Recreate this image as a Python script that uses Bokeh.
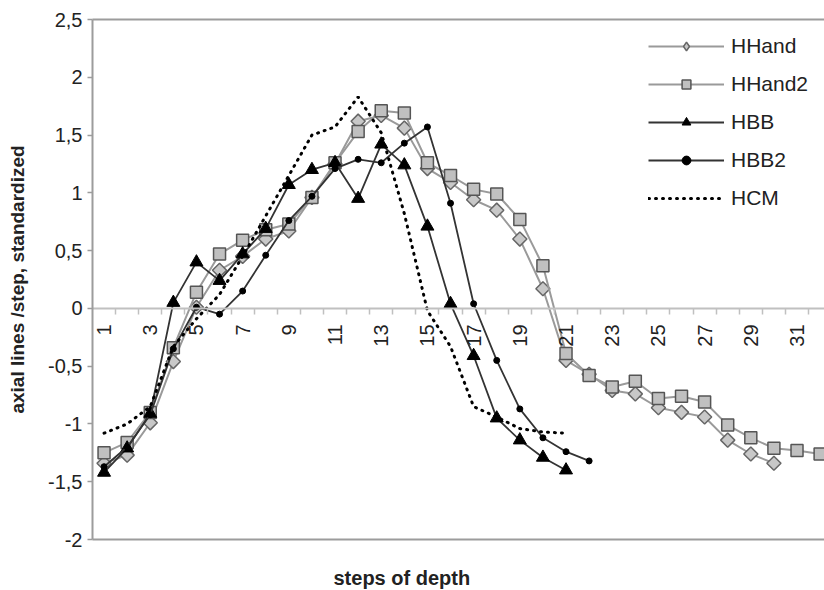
import math
from bokeh.plotting import figure
from bokeh.models import LinearAxis, FixedTicker, Range1d, Legend, LegendItem, Title
from bokeh.embed import file_html
from bokeh.resources import INLINE

# ---------------- data ----------------
steps_hhand = list(range(1, 31))
hhand = [-1.34, -1.27, -0.99, -0.46, 0.01, 0.33, 0.45, 0.60, 0.67, 0.96,
         1.25, 1.62, 1.67, 1.56, 1.21, 1.09, 0.94, 0.85, 0.60, 0.17,
         -0.45, -0.57, -0.71, -0.74, -0.86, -0.90, -0.94, -1.14, -1.26, -1.34]

steps_hhand2 = list(range(1, 33))
hhand2 = [-1.25, -1.16, -0.90, -0.34, 0.14, 0.47, 0.59, 0.68, 0.73, 0.96,
          1.26, 1.53, 1.71, 1.69, 1.26, 1.15, 1.03, 0.99, 0.77, 0.37,
          -0.39, -0.58, -0.68, -0.63, -0.78, -0.76, -0.81, -1.01, -1.12, -1.21,
          -1.23, -1.26]

steps_hbb = list(range(1, 22))
hbb = [-1.42, -1.21, -0.91, 0.05, 0.40, 0.24, 0.47, 0.69, 1.07, 1.20,
       1.26, 0.95, 1.42, 1.24, 0.71, 0.04, -0.41, -0.95, -1.14, -1.29, -1.40]

steps_hbb2 = list(range(1, 23))
hbb2 = [-1.37, -1.20, -0.92, -0.35, 0.01, -0.05, 0.15, 0.46, 0.76, 0.97,
        1.21, 1.29, 1.26, 1.43, 1.57, 0.91, 0.04, -0.45, -0.87, -1.12,
        -1.24, -1.32]

steps_hcm = list(range(1, 22))
hcm = [-1.08, -1.00, -0.85, -0.33, -0.09, 0.12, 0.45, 0.80, 1.15, 1.50,
       1.57, 1.83, 1.52, 0.82, -0.02, -0.33, -0.85, -0.94, -1.04, -1.07, -1.08]

x_label_steps = list(range(1, 32, 2))
x_tick_labels = [str(k) for k in x_label_steps]
y_ticks = [-2, -1.5, -1, -0.5, 0, 0.5, 1, 1.5, 2, 2.5]
y_tick_labels = ["-2", "-1,5", "-1", "-0,5", "0", "0,5", "1", "1,5", "2", "2,5"]

FONT = "Liberation Sans"
FRAME = "#9c9c9c"

p = figure(width=824, height=590,
           x_range=Range1d(0.5, 32.19), y_range=Range1d(-2, 2.5),
           x_axis_type=None, y_axis_type=None,
           output_backend="svg", toolbar_location=None,
           min_border_left=92, min_border_right=0,
           min_border_top=19, min_border_bottom=50)
p.outline_line_color = None
p.background_fill_color = "white"
p.border_fill_color = "white"

# y axis (left frame line)
yax = LinearAxis(ticker=FixedTicker(ticks=y_ticks),
                 major_label_overrides={float(t): l for t, l in zip(y_ticks, y_tick_labels)})
yax.axis_line_color = FRAME
yax.axis_line_width = 2
yax.major_tick_line_color = FRAME
yax.major_tick_line_width = 1.5
yax.major_tick_out = 5
yax.major_tick_in = 0
yax.minor_tick_line_color = None
yax.major_label_text_font = FONT
yax.major_label_text_font_size = "20px"
yax.major_label_text_color = "#222222"
yax.major_label_standoff = 5
yax.axis_label = "axial lines /step, standardized"
yax.axis_label_text_font = FONT
yax.axis_label_text_font_size = "19px"
yax.axis_label_text_font_style = "bold"
yax.axis_label_text_color = "#222222"
yax.axis_label_standoff = 17
p.add_layout(yax, "left")

# top frame line
top = LinearAxis(ticker=FixedTicker(ticks=[]))
top.axis_line_color = FRAME
top.axis_line_width = 2
top.major_tick_line_color = None
top.minor_tick_line_color = None
top.major_tick_out = 0
top.major_label_standoff = 0
p.add_layout(top, "above")

# bottom frame line (an invisible tick spaces the x title below it)
bot = LinearAxis(ticker=FixedTicker(ticks=[1]))
bot.axis_line_color = FRAME
bot.axis_line_width = 2
bot.major_tick_line_color = None
bot.minor_tick_line_color = None
bot.major_tick_out = 23
bot.major_tick_in = 0
bot.major_label_text_color = None
bot.major_label_text_font_size = "1px"
bot.major_label_standoff = 0
p.add_layout(bot, "below")

# category axis crossing at y = 0: labels on odd steps, tick marks between categories
zl = LinearAxis(ticker=FixedTicker(ticks=x_label_steps,
                                   minor_ticks=[k + 0.5 for k in range(1, 32)]),
                fixed_location=0,
                major_label_overrides={float(k): l for k, l in zip(x_label_steps, x_tick_labels)})
zl.axis_line_color = "#c0c0c0"
zl.axis_line_width = 2
zl.major_tick_line_color = None
zl.minor_tick_line_color = "#c0c0c0"
zl.minor_tick_line_width = 1.5
zl.minor_tick_out = 6
zl.minor_tick_in = 0
zl.major_label_orientation = math.pi / 2
zl.major_label_text_font = FONT
zl.major_label_text_font_size = "20px"
zl.major_label_text_color = "#222222"
zl.major_label_standoff = 10
p.add_layout(zl, "below")

xt = Title(text="steps of depth", align="left", offset=241, standoff=4,
           text_font=FONT, text_font_size="20px", text_font_style="bold",
           text_color="#222222")
p.add_layout(xt, "below")

# ---------------- series ----------------
GRAYL = "#9a9a9a"
DARK = "#333333"

l1 = p.line(steps_hhand, hhand, line_color=GRAYL, line_width=2)
# rhombus used as the legend symbol; it sits hidden under the diamonds below
m1_leg = p.scatter(steps_hhand, hhand, marker="diamond", size=9,
                   fill_color="#c8c8c8", line_color="#666666", line_width=1.5)
m1 = p.scatter(steps_hhand, hhand, marker="square", size=10, angle=math.pi / 4,
               fill_color="#c8c8c8", line_color="#666666", line_width=1.5)
l2 = p.line(steps_hhand2, hhand2, line_color=GRAYL, line_width=2)
m2 = p.scatter(steps_hhand2, hhand2, marker="square", size=12,
               fill_color="#c0c0c0", line_color="#555555", line_width=1.5)
l3 = p.line(steps_hbb, hbb, line_color=DARK, line_width=1.8)
m3 = p.scatter(steps_hbb, hbb, marker="triangle", size=13,
               fill_color="black", line_color="black")
l4 = p.line(steps_hbb2, hbb2, line_color=DARK, line_width=1.8)
m4 = p.scatter(steps_hbb2, hbb2, marker="circle", size=6,
               fill_color="black", line_color="black")
l5 = p.line(steps_hcm, hcm, line_color="black", line_width=3, line_dash="1 6",
            line_cap="round")

legend = Legend(items=[
    LegendItem(label="HHand", renderers=[l1, m1_leg]),
    LegendItem(label="HHand2", renderers=[l2, m2]),
    LegendItem(label="HBB", renderers=[l3, m3]),
    LegendItem(label="HBB2", renderers=[l4, m4]),
    LegendItem(label="HCM", renderers=[l5]),
], location=(556, 326))
legend.glyph_width = 76
legend.glyph_height = 22
legend.label_height = 30
legend.spacing = 8
legend.padding = 0
legend.margin = 0
legend.label_standoff = 7
legend.border_line_color = None
legend.background_fill_alpha = 0
legend.label_text_font = FONT
legend.label_text_font_size = "21px"
legend.label_text_color = "#222222"
p.add_layout(legend)

open("out.html", "w").write(file_html(p, INLINE))
